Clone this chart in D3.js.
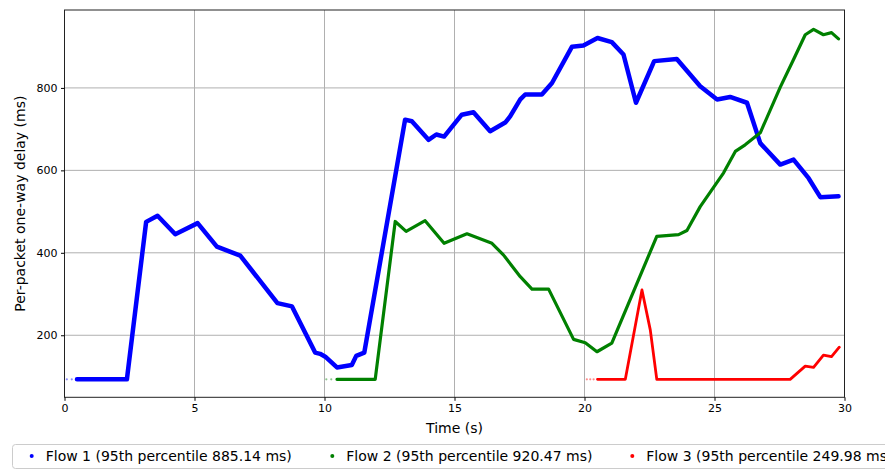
<!DOCTYPE html>
<html><head><meta charset="utf-8">
<script src="https://cdn.jsdelivr.net/npm/d3@7"></script>
<style>body{margin:0;background:#fff}text{font-family:"DejaVu Sans",sans-serif;fill:#000}</style>
</head><body><svg id="c" width="885" height="470"></svg>
<script>
const xTicks = [0, 5, 10, 15, 20, 25, 30];
const yTicks = [200, 400, 600, 800];
const seriesNames = ["Flow 1 (95th percentile 885.14 ms)", "Flow 2 (95th percentile 920.47 ms)", "Flow 3 (95th percentile 249.98 ms)"];
const seriesColors = ["#0000ff", "#008000", "#ff0000"];

const flow1T = [0.48, 2.4, 3.14, 3.58, 4.26, 5.12, 5.86, 6.76, 8.19, 8.75, 9.64, 9.83, 10.03, 10.48, 11.05, 11.22, 11.53, 13.1, 13.36, 14.0, 14.3, 14.6, 15.28, 15.73, 16.37, 16.95, 17.14, 17.53, 17.72, 18.36, 18.75, 19.52, 19.96, 20.5, 21.05, 21.5, 21.98, 22.68, 23.55, 24.07, 24.45, 25.1, 25.6, 26.25, 26.76, 27.53, 28.04, 28.62, 29.07, 29.77];
const flow1V = [93, 93, 475, 490, 445, 472, 415, 393, 278, 270, 158, 155, 148, 122, 128, 150, 158, 723, 719, 674, 687, 682, 735, 741, 695, 716, 731, 772, 784, 784, 812, 900, 903, 921, 911, 881, 764, 865, 870, 832, 804, 772, 778, 764, 666, 614, 626, 581, 535, 537];
const flow1FaintT = [0.09, 0.28];
const flow1FaintV = [93, 93];

const flow2T = [10.48, 11.95, 12.72, 13.14, 13.87, 14.6, 15.48, 16.44, 16.88, 17.53, 17.98, 18.62, 19.58, 20.03, 20.48, 21.05, 22.78, 23.62, 23.94, 24.45, 25.35, 25.8, 26.18, 26.76, 27.53, 28.04, 28.49, 28.81, 29.19, 29.5, 29.77];
const flow2V = [93, 93, 476, 452, 478, 423, 446, 423, 395, 342, 312, 312, 190, 182, 160, 181, 440, 444, 454, 512, 594, 646, 662, 691, 802, 869, 929, 942, 929, 934, 919];
const flow2FaintT = [10.07, 10.26];
const flow2FaintV = [93, 93];

const flow3T = [20.5, 21.57, 22.21, 22.53, 22.78, 27.91, 28.49, 28.81, 29.19, 29.5, 29.8];
const flow3V = [93, 93, 310, 213, 93, 93, 125, 122, 152, 148, 171];
const flow3FaintT = [20.09, 20.22, 20.35];
const flow3FaintV = [93, 93, 93];

const svg = d3.select("#c");
const L = 64.5, R = 844.5, T = 10, B = 397.3;
const x = d3.scaleLinear().domain([0, 30]).range([L, R]);
const y = d3.scaleLinear().domain([49.5, 989]).range([B, T]);

// grid
const g = svg.append("g");
g.selectAll("line.gx").data(xTicks).enter().append("line")
  .attr("x1", d => x(d)).attr("x2", d => x(d)).attr("y1", T).attr("y2", B)
  .attr("stroke", "#b0b0b0").attr("stroke-width", 1);
g.selectAll("line.gy").data(yTicks).enter().append("line")
  .attr("x1", L).attr("x2", R).attr("y1", d => y(d)).attr("y2", d => y(d))
  .attr("stroke", "#b0b0b0").attr("stroke-width", 1);

const series = [
  {t: flow1T, v: flow1V, ft: flow1FaintT, fv: flow1FaintV, w: 4.5},
  {t: flow2T, v: flow2V, ft: flow2FaintT, fv: flow2FaintV, w: 3.2},
  {t: flow3T, v: flow3V, ft: flow3FaintT, fv: flow3FaintV, w: 2.8}
];
const line = d3.line().x(d => x(d[0])).y(d => y(d[1]));
series.forEach((s, i) => {
  const pts = s.t.map((t, k) => [t, s.v[k]]);
  svg.append("path").attr("d", line(pts)).attr("fill", "none")
    .attr("stroke", seriesColors[i]).attr("stroke-width", s.w)
    .attr("stroke-linejoin", "round").attr("stroke-linecap", "round");
  svg.selectAll(null).data(s.ft.map((t, k) => [t, s.fv[k]])).enter().append("circle")
    .attr("cx", d => x(d[0])).attr("cy", d => y(d[1])).attr("r", 1.1)
    .attr("fill", seriesColors[i]).attr("opacity", 0.45);
});

// frame
svg.append("rect").attr("x", L).attr("y", T).attr("width", R - L).attr("height", B - T)
  .attr("fill", "none").attr("stroke", "#222").attr("stroke-width", 1);

// axes
const ax = svg.append("g").attr("transform", `translate(0,${B})`)
  .call(d3.axisBottom(x).tickValues(xTicks).tickSize(3.5).tickPadding(3.5).tickFormat(d3.format("d")));
const ay = svg.append("g").attr("transform", `translate(${L},0)`)
  .call(d3.axisLeft(y).tickValues(yTicks).tickSize(3.5).tickPadding(3.5).tickFormat(d3.format("d")));
[ax, ay].forEach(a => {
  a.select(".domain").remove();
  a.selectAll("text").attr("font-size", 11).attr("font-family", "DejaVu Sans").attr("fill", "#000");
  a.selectAll("line").attr("stroke", "#000");
});

svg.append("text").attr("x", (L + R) / 2).attr("y", 433).attr("text-anchor", "middle")
  .attr("font-size", 14).text("Time (s)");
svg.append("text").attr("transform", `translate(25,${(T + B) / 2}) rotate(-90)`)
  .attr("text-anchor", "middle").attr("font-size", 14).text("Per-packet one-way delay (ms)");

// legend
svg.append("rect").attr("x", 12.5).attr("y", 444.5).attr("width", 900).attr("height", 24)
  .attr("rx", 3).attr("fill", "#fff").attr("stroke", "#cccccc").attr("stroke-width", 1);
const legX = [31.7, 332.3, 632.3];
seriesNames.forEach((n, i) => {
  svg.append("circle").attr("cx", legX[i]).attr("cy", 456).attr("r", 2).attr("fill", seriesColors[i]);
  svg.append("text").attr("x", legX[i] + 14).attr("y", 461).attr("font-size", 14).text(n);
});
</script></body></html>
